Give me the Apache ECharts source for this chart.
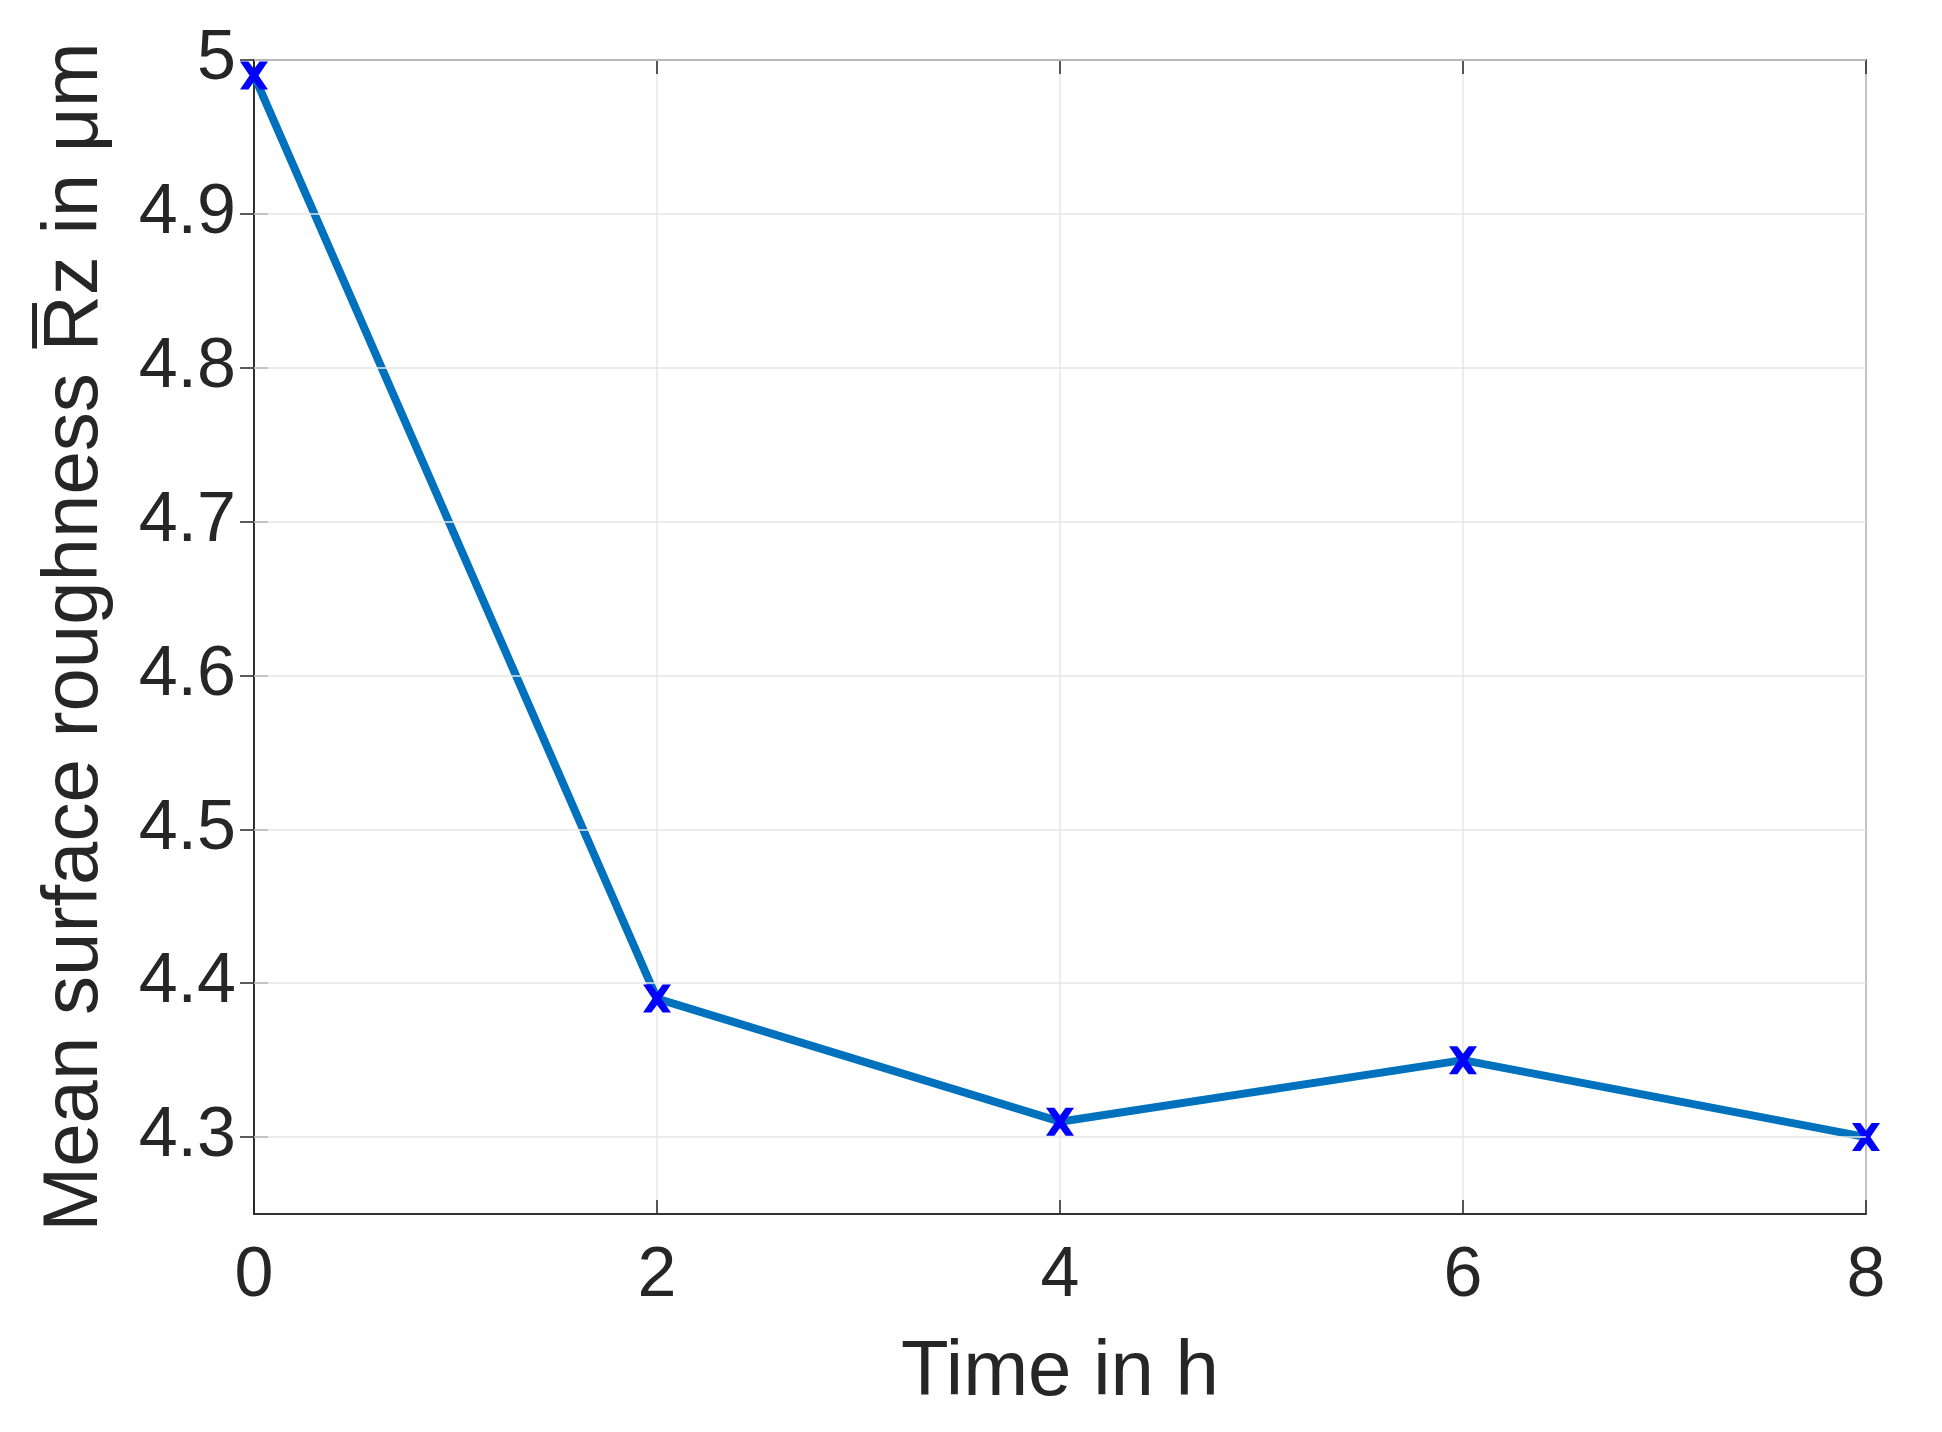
<!DOCTYPE html><html><head><meta charset="utf-8"><script src="https://cdn.jsdelivr.net/npm/echarts@6/dist/echarts.min.js"></script>
<style>html,body{margin:0;background:#fff}#c{width:1942px;height:1432px}</style></head><body><div id="c"></div><script>
const times=[0,2,4,6,8];
const roughness=[4.99,4.39,4.31,4.35,4.30];
const yTicks=[4.3,4.4,4.5,4.6,4.7,4.8,4.9,5];
const xTicks=[0,2,4,6,8];
const chart=echarts.init(document.getElementById('c'));
const xPath='path://M0,0L3,0L5,2.2L7,0L10,0L6.6,4L10,8L7,8L5,5.8L3,8L0,8L3.4,4Z';
const font='Liberation Sans';
const yBase={type:'value',min:4.25,max:5,splitLine:{show:false},
 axisLine:{show:true,lineStyle:{color:'#262626',width:1.5}},
 axisTick:{show:true,inside:true,length:14,customValues:yTicks,lineStyle:{color:'#262626',width:1.5}}};
chart.setOption({
 animation:false,
 grid:{left:254,right:76,top:60,bottom:218,show:true,borderColor:'#262626',borderWidth:1.5},
 xAxis:[{type:'value',min:0,max:8,interval:2,position:'bottom',
  name:'Time in h',nameLocation:'middle',nameGap:120,nameTextStyle:{fontFamily:font,fontSize:78,color:'#262626'},
  axisLabel:{fontFamily:font,fontSize:70,color:'#262626',margin:28},
  axisLine:{lineStyle:{color:'#262626',width:1.5}},
  axisTick:{inside:true,length:14,lineStyle:{color:'#262626',width:1.5}},
  splitLine:{show:true,lineStyle:{color:'#e6e6e6',width:1.5}}},
  {type:'value',min:0,max:8,interval:2,position:'top',axisLabel:{show:false},
  axisLine:{lineStyle:{color:'#262626',width:1.5}},axisTick:{inside:true,length:14,lineStyle:{color:'#262626',width:1.5}},splitLine:{show:false}}],
 yAxis:[Object.assign({},yBase,{position:'left',
  name:'Mean surface roughness R\u0305z in \u03bcm',nameLocation:'middle',nameGap:140,
  nameTextStyle:{fontFamily:font,fontSize:78,color:'#262626'},
  axisLabel:{fontFamily:font,fontSize:70,color:'#262626',margin:18,customValues:yTicks,formatter:v=>String(+v.toFixed(1))}}),
  Object.assign({},yBase,{position:'right',axisLabel:{show:false}})],
 series:[{type:'line',data:times.map((t,i)=>[t,roughness[i]]),
  lineStyle:{color:'#0072BD',width:8},
  symbol:xPath,symbolSize:28,itemStyle:{color:'#0000FF',borderWidth:0},showAllSymbol:true,
  markLine:{silent:true,symbol:'none',label:{show:false},lineStyle:{color:'#e6e6e6',width:1.5,type:'solid'},
   data:yTicks.map(v=>({yAxis:v}))},z:3}]
});
</script></body></html>
